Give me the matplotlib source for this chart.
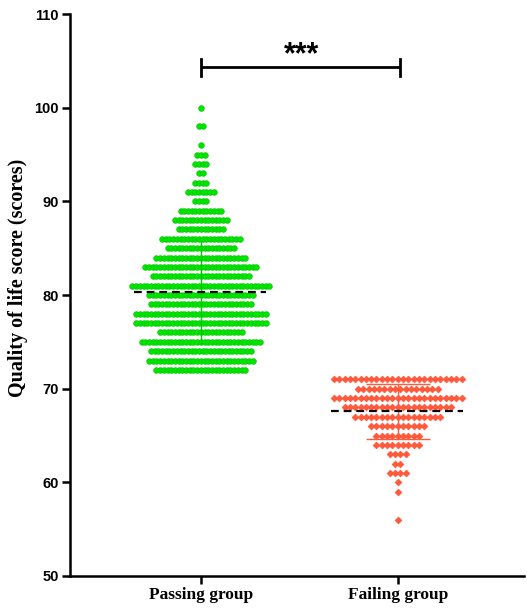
import numpy as np
import matplotlib
matplotlib.use('Agg')
import matplotlib.pyplot as plt

# Data: score levels and number of participants at each level
groups = ['Passing group', 'Failing group']

pass_scores = [100, 98, 96, 95, 94, 93, 92, 91, 90, 89, 88, 87, 86, 85, 84,
               83, 82, 81, 80, 79, 78, 77, 76, 75, 74, 73, 72]
pass_counts = [1, 2, 1, 3, 4, 2, 4, 8, 4, 12, 15, 13, 22, 19, 25,
               31, 27, 38, 29, 28, 36, 36, 23, 33, 28, 29, 25]

fail_scores = [71, 70, 69, 68, 67, 66, 65, 64, 63, 62, 61, 60, 59, 56]
fail_counts = [25, 16, 25, 21, 17, 11, 9, 9, 4, 2, 4, 1, 1, 1]

sig_label = '***'


def swarm(xc, scores, counts, step):
    xs, ys = [], []
    for s, n in zip(scores, counts):
        off = (np.arange(n) - (n - 1) / 2) * step
        xs.extend(xc + off)
        ys.extend([s] * n)
    return np.array(xs), np.array(ys)


fig = plt.figure(figsize=(5.27, 6.11), dpi=100)
ax = fig.add_axes([0.1328, 0.0573, 0.861, 0.9197])

# Passing group
px, py = swarm(1, pass_scores, pass_counts, 0.0188)
ax.scatter(px, py, s=17, marker='o', color='#00E400', edgecolors='#00C800',
           linewidths=0.4, zorder=2)
# Failing group
fx, fy = swarm(2, fail_scores, fail_counts, 0.027)
ax.scatter(fx, fy, s=13, marker='D', color='#FF5A3C', edgecolors='#FF4A2C',
           linewidths=0.3, zorder=2)

# mean +/- SD and mean line
for xc, y, col, cap in [(1, py, '#00C800', 0), (2, fy, '#FF5A3C', 23)]:
    m, sd = y.mean(), y.std(ddof=1)
    ax.errorbar(xc, m, yerr=sd, color=col, lw=1, capsize=cap, capthick=1,
                zorder=3)
    ax.plot([xc - 0.34, xc + 0.33], [m, m], color='black', lw=1.6,
            ls=(0, (3.5, 2.2)), zorder=4)

# significance bracket
ax.plot([1, 2.01], [104.3, 104.3], color='black', lw=2, solid_capstyle='butt')
ax.plot([1, 1], [103.35, 105.25], color='black', lw=2)
ax.plot([2.01, 2.01], [103.35, 105.25], color='black', lw=2)
ax.text(1.51, 105.6, sig_label, ha='center', va='center', fontsize=22,
        fontweight='bold', family='Liberation Sans')

ax.set_xlim(0.335, 2.64)
ax.set_ylim(50, 110)
ax.set_yticks(np.arange(50, 111, 10))
ax.set_xticks([1, 2])
ax.set_xticklabels(groups, fontsize=12.5, fontweight='bold',
                   family='Liberation Serif')
for lab in ax.get_yticklabels():
    lab.set_fontweight('bold')
    lab.set_fontsize(10.5)
    lab.set_family('Liberation Sans')
ax.set_ylabel('Quality of life score (scores)', fontsize=14.5,
              fontweight='bold', family='Liberation Serif')
ax.yaxis.set_label_coords(-0.093, 0.53)

for side in ['top', 'right']:
    ax.spines[side].set_visible(False)
for side in ['left', 'bottom']:
    ax.spines[side].set_linewidth(1.8)
ax.tick_params(width=1.8, length=6, direction='out', pad=2)

fig.savefig('out.png', dpi=100)
